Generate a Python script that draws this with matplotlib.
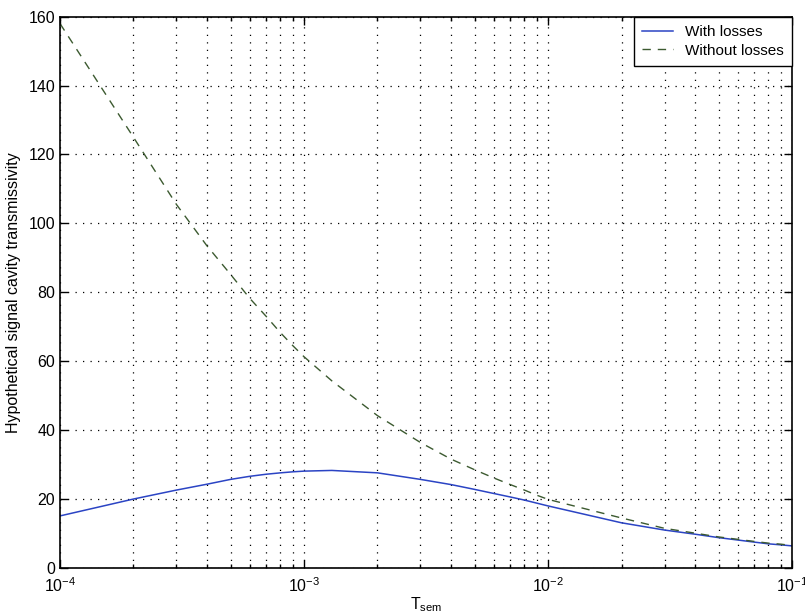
import numpy as np
import matplotlib
matplotlib.use("Agg")
import matplotlib.pyplot as plt
from matplotlib.ticker import LogLocator, NullFormatter

plt.rcParams['font.family'] = ['Liberation Sans', 'DejaVu Sans']
plt.rcParams['mathtext.fontset'] = 'custom'
plt.rcParams['mathtext.rm'] = 'Liberation Sans'
plt.rcParams['mathtext.it'] = 'Liberation Sans:italic'

# T_sem sample points
t_sem = [1e-4, 2e-4, 3e-4, 4e-4, 5e-4, 6e-4, 7e-4, 8e-4, 9e-4,
         1e-3, 1.3e-3, 2e-3, 3e-3, 4e-3, 5e-3, 6e-3, 7e-3, 8e-3, 9e-3,
         1e-2, 2e-2, 3e-2, 4e-2, 5e-2, 6e-2, 7e-2, 8e-2, 9e-2, 1e-1]

with_losses = [15.1, 20.0, 22.6, 24.3, 25.7, 26.6, 27.2, 27.6, 27.9,
               28.1, 28.3, 27.6, 25.7, 24.2, 22.8, 21.6, 20.6, 19.7, 18.8,
               18.0, 13.1, 11.0, 9.8, 8.8, 8.1, 7.5, 7.0, 6.7, 6.4]

without_losses = [158.0, 125.0, 105.5, 93.5, 85.2, 78.2, 73.0, 68.3, 64.5,
                  61.3, 54.3, 44.2, 36.4, 31.6, 28.5, 26.1, 24.2, 22.6, 21.1,
                  19.9, 14.5, 11.5, 10.1, 9.0, 8.3, 7.7, 7.2, 6.9, 6.5]

labels = ["With losses", "Without losses"]
y_ticks = [0, 20, 40, 60, 80, 100, 120, 140, 160]

fig = plt.figure(figsize=(8.05, 6.16), dpi=100)
ax = fig.add_axes([0.0745, 0.078, 0.9095, 0.895])

ax.plot(t_sem, with_losses, color='#2b44c4', lw=1.1, label=labels[0])
ax.plot(t_sem, without_losses, color='#3c5a30', lw=1.0, linestyle=(0, (6, 5)),
        label=labels[1])

ax.set_xscale('log')
ax.set_xlim(1e-4, 1e-1)
ax.set_ylim(0, 160)
ax.set_yticks(y_ticks)
ax.xaxis.set_major_locator(LogLocator(base=10, numticks=10))
ax.xaxis.set_minor_locator(LogLocator(base=10, subs=np.arange(2, 10), numticks=20))
ax.xaxis.set_minor_formatter(NullFormatter())

ax.grid(True, which='major', axis='both', color='black', linestyle=(0, (1, 5)), lw=0.9)
ax.grid(True, which='minor', axis='x', color='black', linestyle=(0, (1, 5)), lw=0.9)

ax.tick_params(which='both', direction='in', top=True, right=True, labelsize=11.5,
               width=1.0)
ax.tick_params(which='major', length=6)
ax.tick_params(which='minor', length=3)
ax.tick_params(axis='x', pad=6)
for s in ax.spines.values():
    s.set_linewidth(1.2)

ax.set_xlabel(r'T$_{\mathregular{sem}}$', fontsize=11.5, labelpad=0)
ax.set_ylabel('Hypothetical signal cavity transmissivity', fontsize=11.5, labelpad=5)

leg = ax.legend(loc='upper right', fontsize=11, frameon=True, fancybox=False,
                edgecolor='black', framealpha=1, borderaxespad=0.0,
                handlelength=2.0, borderpad=0.55, labelspacing=0.3,
                handletextpad=0.8)
leg.get_frame().set_linewidth(1.0)

fig.savefig('out.png', dpi=100)
